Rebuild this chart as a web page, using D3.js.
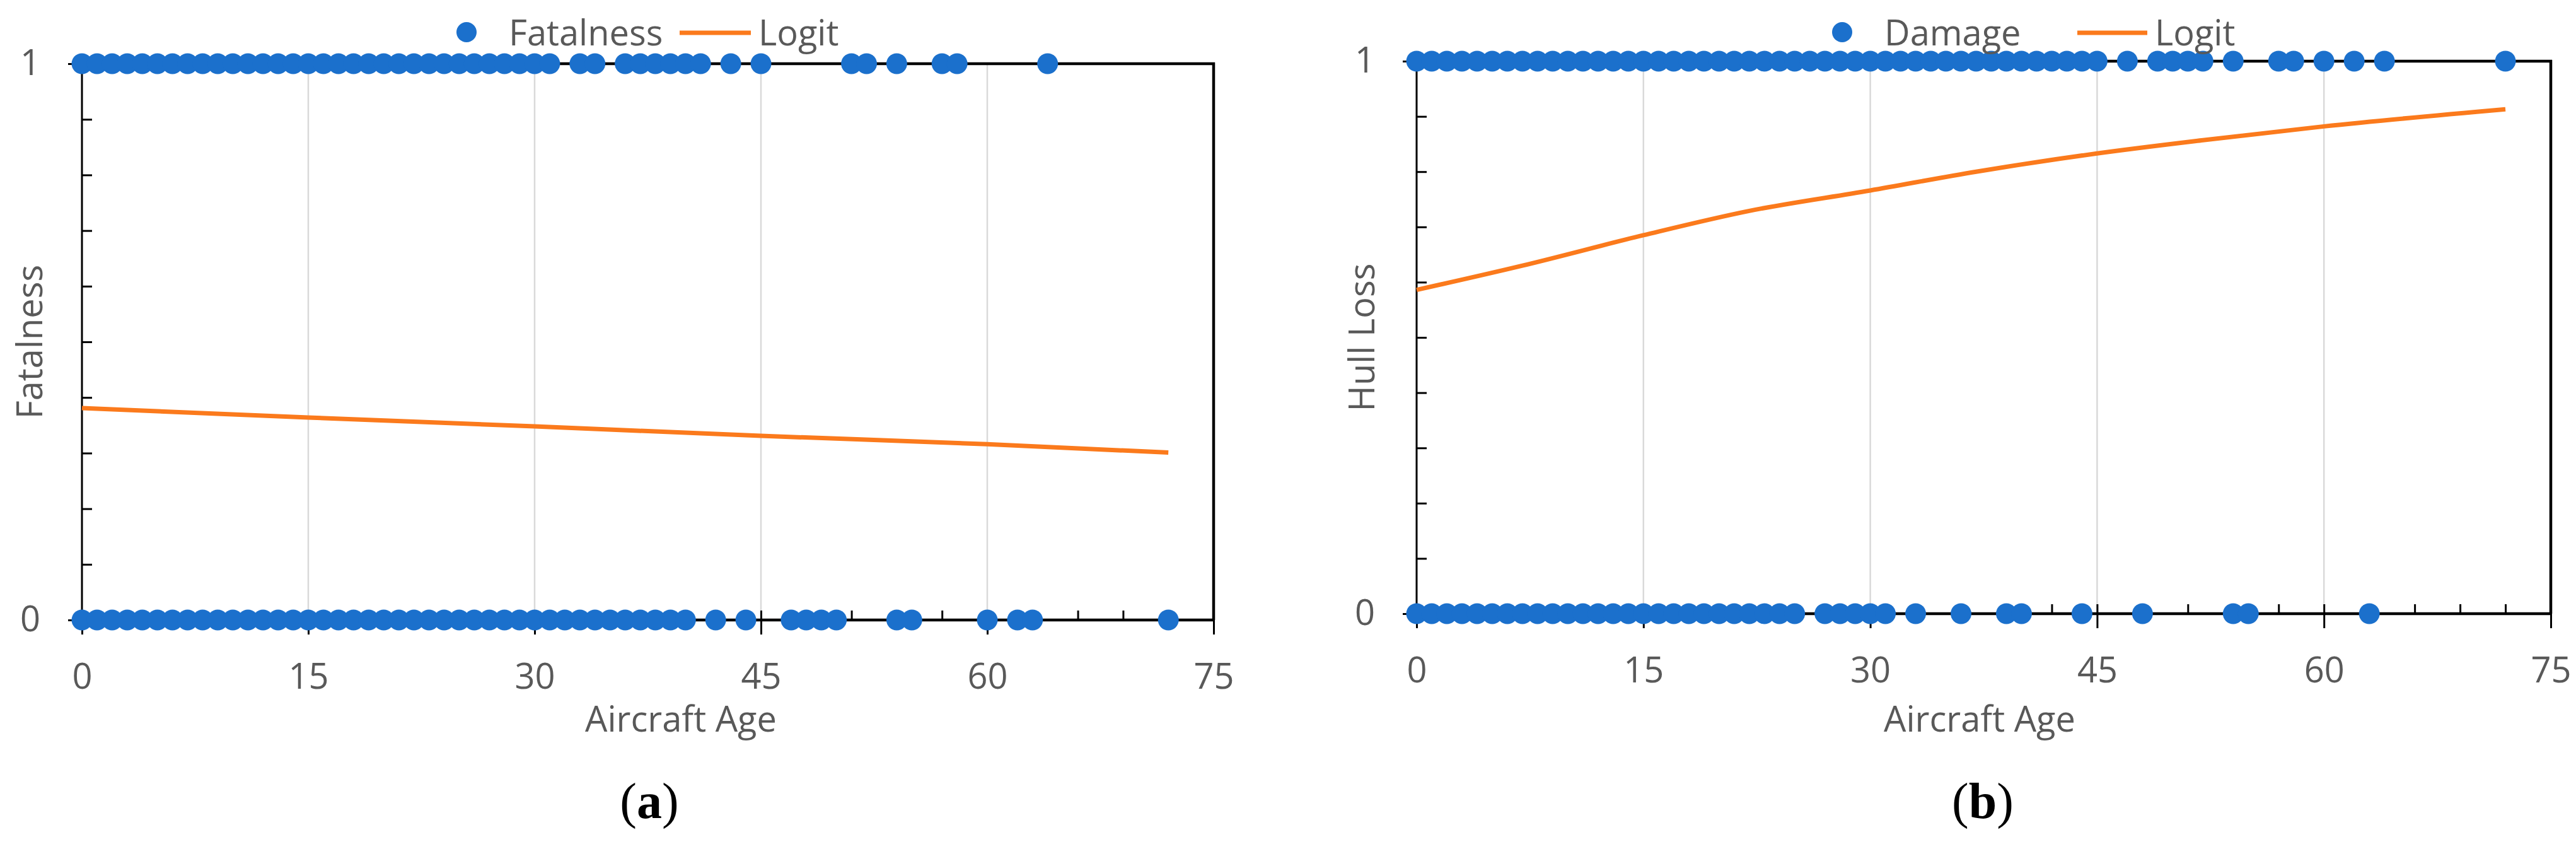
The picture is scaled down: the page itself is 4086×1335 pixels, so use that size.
<!DOCTYPE html>
<html>
<head>
<meta charset="utf-8">
<script src="https://cdn.jsdelivr.net/npm/d3@7"></script>
<style>
  body { margin: 0; background: #fff; }
  text { font-family: "Open Sans", sans-serif; }
</style>
</head>
<body>
<svg id="chart" width="4086" height="1335"></svg>
<script>
// ages of accidents with outcome 1 / outcome 0
const fatalOne = [0, 1, 2, 3, 4, 5, 6, 7, 8, 9, 10, 11, 12, 13, 14, 15, 16, 17, 18, 19, 20,
    21, 22, 23, 24, 25, 26, 27, 28, 29, 30, 31, 33, 34, 36, 37, 38, 39, 40, 41, 43, 45,
    51, 52, 54, 57, 58, 64];
const fatalZero = [0, 1, 2, 3, 4, 5, 6, 7, 8, 9, 10, 11, 12, 13, 14, 15, 16, 17, 18, 19, 20,
    21, 22, 23, 24, 25, 26, 27, 28, 29, 30, 31, 32, 33, 34, 35, 36, 37, 38, 39, 40,
    42, 44, 47, 48, 49, 50, 54, 55, 60, 62, 63, 72];
const damageOne = [0, 1, 2, 3, 4, 5, 6, 7, 8, 9, 10, 11, 12, 13, 14, 15, 16, 17, 18, 19, 20,
    21, 22, 23, 24, 25, 26, 27, 28, 29, 30, 31, 32, 33, 34, 35, 36, 37, 38, 39, 40,
    41, 42, 43, 44, 45, 47, 49, 50, 51, 52, 54, 57, 58, 60, 62, 64, 72];
const damageZero = [0, 1, 2, 3, 4, 5, 6, 7, 8, 9, 10, 11, 12, 13, 14, 15, 16, 17, 18, 19, 20,
    21, 22, 23, 24, 25, 27, 28, 29, 30, 31, 33, 36, 39, 40, 44, 48, 54, 55, 63];

// fitted logit curves
const logitAgesA = [0, 15, 30, 45, 60, 72];
const logitA = [0.381, 0.364, 0.348, 0.331, 0.316, 0.301];
const logitAgesB = [0, 7, 15, 22, 30, 37, 45, 52, 60, 72];
const logitB = [0.586, 0.630, 0.685, 0.729, 0.766, 0.800, 0.833, 0.857, 0.882, 0.913];

const xMajor = [0, 15, 30, 45, 60, 75];
const xMinor = d3.range(0, 76, 3);
const yMajor = [0, 1];
const yMinor = d3.range(0, 1.01, 0.1);

const blue = '#1b70cc';
const orange = '#fb7a1c';
const grey = '#595959';
const fs = 56;

const svg = d3.select('#chart');
svg.append('rect').attr('width', 4086).attr('height', 1335).attr('fill', '#fff');

const panels = [
    {
        left: 130, right: 1925, top: 101, bottom: 983,
        ones: fatalOne, zeros: fatalZero, lx: logitAgesA, ly: logitA,
        yTitle: 'Fatalness', yTitleX: 47, seriesName: 'Fatalness',
        legDot: 740, legLine: [1078, 1191], xTitleX: 1080, captionX: 1030, letter: 'a',
    },
    {
        left: 2247, right: 4046, top: 97, bottom: 973,
        ones: damageOne, zeros: damageZero, lx: logitAgesB, ly: logitB,
        yTitle: 'Hull Loss', yTitleX: 2160, seriesName: 'Damage',
        legDot: 2922, legLine: [3295, 3406], xTitleX: 3140, captionX: 3145, letter: 'b',
    },
];

panels.forEach(p => {
    const x = d3.scaleLinear().domain([0, 75]).range([p.left, p.right]);
    const y = d3.scaleLinear().domain([0, 1]).range([p.bottom, p.top]);
    const g = svg.append('g');

    // vertical gridlines
    g.selectAll('.grid')
        .data(xMajor.slice(1, -1))
        .enter()
        .append('line')
        .attr('x1', d => x(d)).attr('x2', d => x(d))
        .attr('y1', y(1)).attr('y2', y(0))
        .attr('stroke', '#d9d9d9')
        .attr('stroke-width', 2.5);

    // minor ticks pointing inside
    const xIn = g.append('g').attr('transform', `translate(0,${y(0)})`)
        .call(d3.axisTop(x).tickValues(xMinor).tickSize(15).tickFormat(''));
    const yIn = g.append('g').attr('transform', `translate(${x(0)},0)`)
        .call(d3.axisRight(y).tickValues(yMinor).tickSize(16).tickFormat(''));

    // major ticks + labels pointing outside
    const xOut = g.append('g').attr('transform', `translate(0,${y(0)})`)
        .call(d3.axisBottom(x).tickValues(xMajor).tickSize(23).tickPadding(46).tickFormat(d3.format('d')));
    const yOut = g.append('g').attr('transform', `translate(${x(0)},0)`)
        .call(d3.axisLeft(y).tickValues(yMajor).tickSize(22).tickPadding(44).tickFormat(d3.format('d')));

    [xIn, yIn, xOut, yOut].forEach(a => {
        a.select('.domain').remove();
        a.selectAll('.tick line').attr('stroke', '#000').attr('stroke-width', 3);
        a.selectAll('.tick text')
            .attr('fill', grey)
            .style('font-family', '"Open Sans", sans-serif')
            .style('font-size', fs + 'px');
    });

    // axis lines and frame
    g.append('line').attr('x1', x(0)).attr('x2', x(0)).attr('y1', y(1)).attr('y2', y(0))
        .attr('stroke', '#000').attr('stroke-width', 3);
    g.append('line').attr('x1', x(0)).attr('x2', x(75) + 2).attr('y1', y(0)).attr('y2', y(0))
        .attr('stroke', '#000').attr('stroke-width', 4.5);
    g.append('line').attr('x1', x(0)).attr('x2', x(75) + 2).attr('y1', y(1)).attr('y2', y(1))
        .attr('stroke', '#000').attr('stroke-width', 4.5);
    g.append('line').attr('x1', x(75)).attr('x2', x(75)).attr('y1', y(1) - 2).attr('y2', y(0))
        .attr('stroke', '#000').attr('stroke-width', 4.5);

    // observation dots
    const pts = p.ones.map(a => ({ a, v: 1 })).concat(p.zeros.map(a => ({ a, v: 0 })));
    g.selectAll('circle.obs')
        .data(pts)
        .enter()
        .append('circle')
        .attr('class', 'obs')
        .attr('cx', d => x(d.a))
        .attr('cy', d => y(d.v))
        .attr('r', 16.5)
        .attr('fill', blue);

    // logit curve
    const line = d3.line().curve(d3.curveMonotoneX).x(d => x(d[0])).y(d => y(d[1]));
    g.append('path')
        .attr('d', line(p.lx.map((a, i) => [a, p.ly[i]])))
        .attr('fill', 'none')
        .attr('stroke', orange)
        .attr('stroke-width', 7)
        .attr('stroke-linejoin', 'round');

    // legend
    g.append('circle').attr('cx', p.legDot).attr('cy', 51).attr('r', 16).attr('fill', blue);
    g.append('text').attr('x', p.legDot + 67).attr('y', 72)
        .attr('fill', grey).style('font-size', fs + 'px').text(p.seriesName);
    g.append('line').attr('x1', p.legLine[0]).attr('x2', p.legLine[1])
        .attr('y1', 52).attr('y2', 52)
        .attr('stroke', orange).attr('stroke-width', 7);
    g.append('text').attr('x', p.legLine[1] + 12).attr('y', 72)
        .attr('fill', grey).style('font-size', fs + 'px').text('Logit');

    // axis titles
    g.append('text')
        .attr('transform', `translate(${p.yTitleX},${(p.top + p.bottom) / 2}) rotate(-90)`)
        .attr('text-anchor', 'middle')
        .attr('dy', '0.35em')
        .attr('fill', grey).style('font-size', fs + 'px')
        .text(p.yTitle);
    g.append('text')
        .attr('x', p.xTitleX).attr('y', 1160)
        .attr('text-anchor', 'middle')
        .attr('fill', grey).style('font-size', fs + 'px')
        .text('Aircraft Age');

    // caption (a) / (b)
    const cap = g.append('text')
        .attr('x', p.captionX).attr('y', 1297)
        .attr('text-anchor', 'middle')
        .style('font-family', '"Liberation Serif", "DejaVu Serif", serif')
        .style('font-size', '80px')
        .attr('fill', '#000');
    cap.append('tspan').text('(');
    cap.append('tspan').style('font-weight', 'bold').text(p.letter);
    cap.append('tspan').text(')');
});
</script>
</body>
</html>
